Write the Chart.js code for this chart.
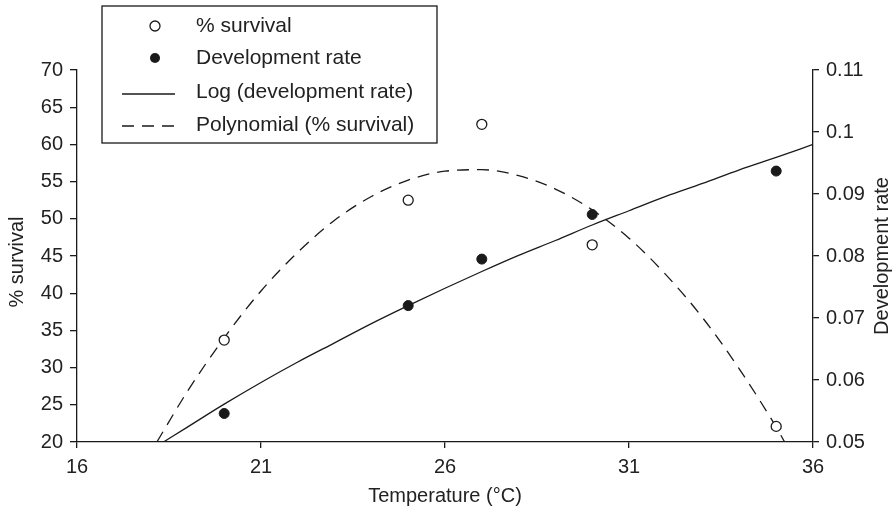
<!DOCTYPE html>
<html>
<head>
<meta charset="utf-8">
<script src="https://cdn.jsdelivr.net/npm/chart.js@4"></script>
<style>
  body { margin: 0; background: #fff; }
  canvas { display: block; }
</style>
</head>
<body>
<canvas id="chart" width="893" height="511"></canvas>
<script>
// observed data
const temps = [20, 25, 27, 30, 35];
const survival = [33.7, 52.5, 62.7, 46.5, 22.1];
const devRate = [0.0546, 0.0720, 0.0795, 0.0867, 0.0937];

// fitted curves
const polyTemps = [18.17, 19, 20, 21, 22, 23, 24, 25, 26, 27, 28, 29, 30, 31, 32, 33, 34, 35, 35.23];
const polySurvival = [20, 26.8, 34.0, 40.3, 45.5, 49.8, 53.0, 55.2, 56.4, 56.6, 55.8, 54.0, 51.2, 47.4, 42.5, 36.7, 29.8, 22.0, 20];
const logTemps = [18.35, 19, 20, 21, 22, 23, 24, 25, 26, 27, 28, 29, 30, 31, 32, 33, 34, 35, 36];
const logRate = [0.0500, 0.0524, 0.0561, 0.0596, 0.0629, 0.0660, 0.0691, 0.0720, 0.0748, 0.0775, 0.0801, 0.0825, 0.0850, 0.0873, 0.0896, 0.0917, 0.0939, 0.0959, 0.0980];

const legendLabels = ["% survival", "Development rate", "Log (development rate)", "Polynomial (% survival)"];

const ink = "#1a1a1a";
const fontFamily = "'Liberation Sans', Arial, sans-serif";
const pts = (xs, ys) => xs.map((x, i) => ({ x: x, y: ys[i] }));

// legend box + rotated axis titles drawn by hand
const extras = {
    id: "extras",
    afterDraw(chart) {
        const c = chart.ctx;
        c.save();
        c.fillStyle = "#fff";
        c.fillRect(102, 6, 335, 137);
        c.strokeStyle = ink;
        c.lineWidth = 1.3;
        c.strokeRect(102, 6, 335, 137);

        const rows = [26, 58, 92, 125];
        c.font = "21px " + fontFamily;
        c.fillStyle = "#222";
        c.textBaseline = "middle";
        c.textAlign = "left";
        legendLabels.forEach((t, i) => c.fillText(t, 196, rows[i]));

        c.lineWidth = 1.3;
        c.beginPath();
        c.arc(155, rows[0], 5, 0, Math.PI * 2);
        c.fillStyle = "#fff";
        c.fill();
        c.stroke();
        c.beginPath();
        c.arc(155, rows[1], 5, 0, Math.PI * 2);
        c.fillStyle = ink;
        c.fill();
        c.beginPath();
        c.moveTo(122, rows[2] + 2);
        c.lineTo(175, rows[2] + 2);
        c.stroke();
        c.setLineDash([12, 8]);
        c.beginPath();
        c.moveTo(122, rows[3] + 1);
        c.lineTo(175, rows[3] + 1);
        c.stroke();
        c.setLineDash([]);

        c.font = "20px " + fontFamily;
        c.fillStyle = "#222";
        c.textAlign = "center";
        c.translate(17, 262);
        c.rotate(-Math.PI / 2);
        c.fillText("% survival", 0, 0);
        c.restore();

        c.save();
        c.font = "20px " + fontFamily;
        c.fillStyle = "#222";
        c.textAlign = "center";
        c.textBaseline = "middle";
        c.translate(882, 256);
        c.rotate(-Math.PI / 2);
        c.fillText("Development rate", 0, 0);
        c.restore();
    }
};

const axisBits = {
    border: { display: true, color: ink, width: 1.3 },
    grid: { drawOnChartArea: false, drawTicks: true, color: ink, lineWidth: 1.3, tickLength: 7 }
};

new Chart(document.getElementById("chart"), {
    type: "scatter",
    data: {
        datasets: [
            {
                label: legendLabels[0],
                data: pts(temps, survival),
                yAxisID: "y",
                pointRadius: 5,
                pointBackgroundColor: "#fff",
                pointBorderColor: ink,
                pointBorderWidth: 1.3
            },
            {
                label: legendLabels[1],
                data: pts(temps, devRate),
                yAxisID: "y2",
                pointRadius: 5,
                pointBackgroundColor: ink,
                pointBorderColor: ink,
                pointBorderWidth: 1
            },
            {
                label: legendLabels[2],
                data: pts(logTemps, logRate),
                yAxisID: "y2",
                showLine: true,
                pointRadius: 0,
                borderColor: ink,
                borderWidth: 1.3,
                cubicInterpolationMode: "monotone"
            },
            {
                label: legendLabels[3],
                data: pts(polyTemps, polySurvival),
                yAxisID: "y",
                showLine: true,
                pointRadius: 0,
                borderColor: ink,
                borderWidth: 1.3,
                borderDash: [12, 8],
                cubicInterpolationMode: "monotone"
            }
        ]
    },
    options: {
        responsive: false,
        animation: false,
        layout: { padding: { top: 70, left: 0, right: 0, bottom: 0 } },
        plugins: {
            legend: { display: false },
            tooltip: { enabled: false }
        },
        scales: {
            x: {
                type: "linear",
                position: "bottom",
                min: 16,
                max: 36,
                ...axisBits,
                grid: { ...axisBits.grid, tickLength: 6 },
                ticks: { stepSize: 5, color: "#222", padding: 7, font: { size: 20, family: fontFamily } },
                title: { display: true, text: "Temperature (°C)", color: "#222", padding: { top: 0, bottom: 3 }, font: { size: 20, family: fontFamily } },
                afterFit(s) { s.height = 69; }
            },
            y: {
                position: "left",
                min: 20,
                max: 70,
                ...axisBits,
                ticks: { stepSize: 5, color: "#222", padding: 7, font: { size: 20, family: fontFamily } },
                afterFit(s) { s.width = 77; }
            },
            y2: {
                position: "right",
                min: 0.05,
                max: 0.11,
                ...axisBits,
                grid: { ...axisBits.grid, tickLength: 6 },
                ticks: {
                    stepSize: 0.01,
                    color: "#222",
                    padding: 7,
                    font: { size: 20, family: fontFamily },
                    callback: v => String(+v.toFixed(2))
                },
                afterFit(s) { s.width = 80; }
            }
        }
    },
    plugins: [extras]
});
</script>
</body>
</html>
